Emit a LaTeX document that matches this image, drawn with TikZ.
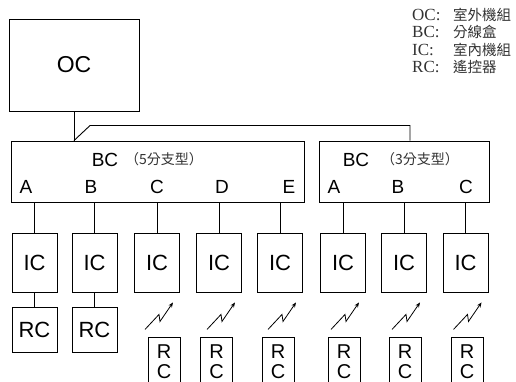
\documentclass[tikz,border=0pt]{standalone}
\usepackage{fontspec}
\setmainfont{Liberation Serif}
\setsansfont{Liberation Sans}
\newfontfamily\cjk{Noto Sans CJK TC}
\usepackage{tikz}
\usetikzlibrary{arrows.meta,positioning,calc}
\definecolor{noteText}{RGB}{50,50,50}

\tikzset{
  unitbox/.style={draw,line width=0.9pt,inner sep=0pt,font=\sffamily\fontsize{22}{22}\selectfont},
  icbox/.style={unitbox,minimum width=45pt,minimum height=59pt},
  rcbox/.style={unitbox,minimum width=45pt,minimum height=45pt},
  rcsmall/.style={unitbox,minimum width=32pt,minimum height=50pt,align=center,font=\sffamily\fontsize{20}{20}\selectfont},
  port/.style={inner sep=0pt,font=\sffamily\fontsize{19}{19}\selectfont},
  branchnote/.style={inner sep=0pt,text=noteText,font=\cjk\fontsize{14}{14}\selectfont},
  legend/.style={anchor=west,inner sep=0pt,text=noteText,font=\fontsize{17}{17}\selectfont},
  wire/.style={line width=0.9pt},
  radio/.style={line width=0.8pt,-{Stealth[length=5pt,width=4pt]}}
}
\newcommand{\legcjk}[1]{{\cjk\fontsize{14.5}{17}\selectfont #1}}

\begin{document}
\begin{tikzpicture}[x=1pt,y=-1pt]
  \clip (0,0) rectangle (516,382);

  % legend
  \node[legend] (legOC) at (412,15) {\makebox[41pt][l]{OC:}\legcjk{室外機組}};
  \node[legend] (legBC) at (412,32) {\makebox[41pt][l]{BC:}\legcjk{分線盒}};
  \node[legend] (legIC) at (412,50) {\makebox[41pt][l]{IC:}\legcjk{室內機組}};
  \node[legend] (legRC) at (412,67) {\makebox[41pt][l]{RC:}\legcjk{遙控器}};

  % outdoor unit and branch boxes
  \node[unitbox,minimum width=130pt,minimum height=92pt,font=\sffamily\fontsize{23}{23}\selectfont] (oc) at (74,65) {OC};
  \node[unitbox,minimum width=293pt,minimum height=61pt] (bc1) at (157.5,171.5) {};
  \node[unitbox,minimum width=170pt,minimum height=61pt] (bc2) at (404,171.5) {};

  \node[port] (bc1name) at (105,160) {BC};
  \node[branchnote] (bc1note) at (164,159) {（5分支型）};
  \node[port] (bc2name) at (356,160) {BC};
  \node[branchnote] (bc2note) at (420,159) {（3分支型）};

  % ports
  \node[port] (p1) at (26,187) {A};
  \node[port] (p2) at (91,187) {B};
  \node[port] (p3) at (157,187) {C};
  \node[port] (p4) at (222,187) {D};
  \node[port] (p5) at (289,187) {E};
  \node[port] (p6) at (334,187) {A};
  \node[port] (p7) at (398,187) {B};
  \node[port] (p8) at (466,187) {C};

  % piping from OC
  \coordinate (tap) at (oc.south |- bc1.north);
  \draw[wire] (oc.south) -- (tap);
  \draw[wire] (tap) -- ++(16,-15) -| ([xshift=6pt]bc2.north);

  % indoor units
  \foreach \i/\x in {1/34.5,2/94.5,3/157,4/219,5/280,6/343,7/404,8/465.5}
    \node[icbox] (ic\i) at (\x,262.5) {IC};
  \foreach \i in {1,...,5}
    \draw[wire] (ic\i.north |- bc1.south) -- (ic\i.north);
  \foreach \i in {6,7,8}
    \draw[wire] (ic\i.north |- bc2.south) -- (ic\i.north);

  % wired remotes
  \node[rcbox] (rc1) at (34.5,329.5) {RC};
  \node[rcbox] (rc2) at (94.5,329.5) {RC};
  \draw[wire] (ic1.south) -- (rc1.north);
  \draw[wire] (ic2.south) -- (rc2.north);

  % wireless remotes
  \foreach \i/\x in {3/164,4/216.5,5/278,6/344,7/405,8/467}{
    \node[rcsmall] (rc\i) at (\x,362) {R\\C};
    \draw[radio] ([shift={(-12,37)}]ic\i.south) -- ++(14,-15) -- ++(1,7) -- ++(13,-19);
  }
\end{tikzpicture}
\end{document}
